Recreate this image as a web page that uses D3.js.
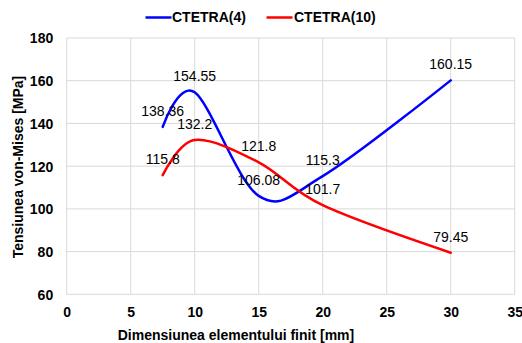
<!DOCTYPE html>
<html><head><meta charset="utf-8">
<script src="https://cdn.jsdelivr.net/npm/d3@7/dist/d3.min.js"></script>
<style>
html,body{margin:0;padding:0;background:#fff;}
svg{display:block;font-family:"Liberation Sans",Arial,sans-serif;}
</style></head>
<body>
<svg id="chart" width="522" height="343"></svg>
<script>
const seriesNames = ["CTETRA(4)", "CTETRA(10)"];
const seriesColors = ["#0000ff", "#ff0000"];
const xValues = [7.5, 10, 15, 20, 30];
const ctetra4 = [138.36, 154.55, 106.08, 115.3, 160.15];
const ctetra10 = [115.8, 132.2, 121.8, 101.7, 79.45];
const xTicks = [0, 5, 10, 15, 20, 25, 30, 35];
const yTicks = [60, 80, 100, 120, 140, 160, 180];
const xTitle = "Dimensiunea elementului finit [mm]";
const yTitle = "Tensiunea von-Mises [MPa]";

const svg = d3.select("#chart");
const x = d3.scaleLinear().domain([0, 35]).range([66.7, 514.7]);
const y = d3.scaleLinear().domain([60, 180]).range([294.3, 38]);

// gridlines
const grid = svg.append("g");
grid.selectAll("line.v").data(xTicks).join("line")
  .attr("x1", d => x(d)).attr("x2", d => x(d))
  .attr("y1", y(180)).attr("y2", y(60))
  .attr("stroke", "#d9d9d9").attr("stroke-width", 1);
grid.selectAll("line.h").data(yTicks).join("line")
  .attr("y1", d => y(d)).attr("y2", d => y(d))
  .attr("x1", x(0)).attr("x2", x(35))
  .attr("stroke", "#d9d9d9").attr("stroke-width", 1);

// axes (labels only)
const xAxis = d3.axisBottom(x).tickValues(xTicks).tickSize(0).tickPadding(0).tickFormat(d3.format("d"));
const gx = svg.append("g").attr("transform", `translate(0,${y(60)})`).call(xAxis);
gx.select(".domain").remove();
gx.selectAll("text").attr("y", 17.5).attr("dy", "0.35em")
  .attr("font-size", 14).attr("font-weight", "bold").attr("fill", "#000")
  .attr("font-family", "Liberation Sans, Arial, sans-serif");

const yAxis = d3.axisLeft(y).tickValues(yTicks).tickSize(0).tickPadding(0).tickFormat(d3.format("d"));
const gy = svg.append("g").attr("transform", `translate(${x(0)},0)`).call(yAxis);
gy.select(".domain").remove();
gy.selectAll("text").attr("x", -13.5).attr("dy", "0.35em")
  .attr("font-size", 14).attr("font-weight", "bold").attr("fill", "#000")
  .attr("font-family", "Liberation Sans, Arial, sans-serif");

// titles
svg.append("text").attr("x", 236).attr("y", 335).attr("dy", "0.35em")
  .attr("text-anchor", "middle").attr("font-size", 14).attr("font-weight", "bold")
  .attr("fill", "#000").text(xTitle);
svg.append("text").attr("transform", "translate(18,167) rotate(-90)").attr("dy", "0.35em")
  .attr("text-anchor", "middle").attr("font-size", 14).attr("font-weight", "bold")
  .attr("fill", "#000").text(yTitle);

// series
const series = [ctetra4, ctetra10];
const line = d3.line().x(d => x(d[0])).y(d => y(d[1])).curve(d3.curveCardinal.tension(0));
series.forEach((vals, i) => {
  const pts = xValues.map((xv, j) => [xv, vals[j]]);
  svg.append("path").datum(pts).attr("d", line)
    .attr("fill", "none").attr("stroke", seriesColors[i]).attr("stroke-width", 2.5)
    .attr("stroke-linejoin", "round").attr("stroke-linecap", "round");
});
series.forEach((vals, i) => {
  const pts = xValues.map((xv, j) => [xv, vals[j]]);
  svg.append("g").selectAll("text").data(pts).join("text")
    .attr("x", d => x(d[0])).attr("y", d => y(d[1]) - 16).attr("dy", "0.35em")
    .attr("text-anchor", "middle").attr("font-size", 14).attr("fill", "#000")
    .text(d => String(d[1]));
});

// legend
const legendItems = [{x: 145.5, tx: 172}, {x: 266.5, tx: 294}];
seriesNames.forEach((name, i) => {
  const it = legendItems[i];
  svg.append("line").attr("x1", it.x).attr("x2", it.x + 26).attr("y1", 17.5).attr("y2", 17.5)
    .attr("stroke", seriesColors[i]).attr("stroke-width", 2.5);
  svg.append("text").attr("x", it.tx).attr("y", 17.5).attr("dy", "0.35em")
    .attr("font-size", 14).attr("font-weight", "bold").attr("fill", "#000").text(name);
});
</script>
</body></html>
